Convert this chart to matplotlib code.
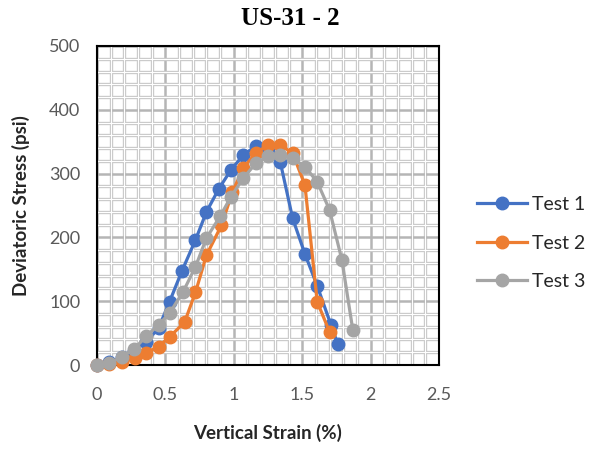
import matplotlib.pyplot as plt
from matplotlib.ticker import MultipleLocator

# values
strain1 = [0, 0.09, 0.18, 0.27, 0.36, 0.45, 0.53, 0.62, 0.72, 0.80, 0.89, 0.98, 1.07, 1.16, 1.25, 1.34, 1.43, 1.52, 1.61, 1.71, 1.76]
stress1 = [0, 5, 12, 22, 36, 58, 99, 147, 196, 240, 276, 306, 329, 343, 336, 318, 230, 174, 124, 63, 33]

strain2 = [0, 0.09, 0.18, 0.28, 0.36, 0.45, 0.53, 0.64, 0.72, 0.80, 0.91, 0.99, 1.07, 1.16, 1.25, 1.34, 1.43, 1.52, 1.61, 1.70]
stress2 = [0, 2, 5, 11, 19, 29, 44, 67, 114, 172, 219, 271, 309, 332, 345, 345, 332, 282, 99, 52]

strain3 = [0, 0.09, 0.18, 0.27, 0.36, 0.45, 0.53, 0.63, 0.72, 0.80, 0.90, 0.98, 1.07, 1.16, 1.25, 1.34, 1.43, 1.52, 1.61, 1.70, 1.79, 1.87]
stress3 = [0, 3, 13, 25, 45, 63, 81, 115, 154, 199, 233, 264, 293, 316, 327, 329, 324, 311, 287, 243, 165, 55]

labels = ['Test 1', 'Test 2', 'Test 3']
colors = ['#4472C4', '#ED7D31', '#A5A5A5']

plt.rcParams['font.family'] = ['Lato', 'DejaVu Sans']

fig = plt.figure(figsize=(5.97, 4.54), dpi=100)
ax = fig.add_axes([0.1625, 0.196, 0.5728, 0.7027])

for x, y, lab, c in zip([strain1, strain2, strain3], [stress1, stress2, stress3], labels, colors):
    ax.plot(x, y, '-o', color=c, lw=2.3, ms=9, label=lab, zorder=3, clip_on=False)

ax.set_xlim(0, 2.5)
ax.set_ylim(0, 500)
ax.xaxis.set_major_locator(MultipleLocator(0.5))
ax.xaxis.set_minor_locator(MultipleLocator(0.1))
ax.yaxis.set_major_locator(MultipleLocator(100))
ax.yaxis.set_minor_locator(MultipleLocator(20))

# excel-style grid: minor lines look doubled, majors a bit darker
ax.set_axisbelow(True)
ax.grid(which='minor', color='#c9c9c9', lw=2.4)
ax.grid(which='major', color='#b5b5b5', lw=1.8)
for v in ax.xaxis.get_minorticklocs():
    ax.axvline(v, color='white', lw=0.8, zorder=0.6)
for v in ax.yaxis.get_minorticklocs():
    ax.axhline(v, color='white', lw=0.8, zorder=0.6)

ax.xaxis.set_major_formatter(plt.FuncFormatter(lambda v, p: f'{v:g}'))
ax.tick_params(which='both', length=0, labelsize=13, labelcolor='#595959')
ax.tick_params(axis='x', pad=16)
ax.tick_params(axis='y', pad=12)
for s in ax.spines.values():
    s.set_linewidth(1.5)
    s.set_color('black')

ax.set_xlabel('Vertical Strain (%)', fontsize=13.5, fontweight='bold', color='#262626', labelpad=15)
ax.set_ylabel('Deviatoric Stress (psi)', fontsize=13.5, fontweight='bold', color='#262626', labelpad=14)
fig.text(0.487, 0.96, 'US-31 - 2', ha='center', va='center', fontsize=18,
         fontweight='bold', family='Liberation Serif')

leg = ax.legend(loc='center left', bbox_to_anchor=(1.06, 0.382), frameon=False,
                fontsize=14, handlelength=2.55, labelspacing=1.1, labelcolor='#262626',
                handletextpad=0.3)

fig.savefig('out.png', dpi=100)
